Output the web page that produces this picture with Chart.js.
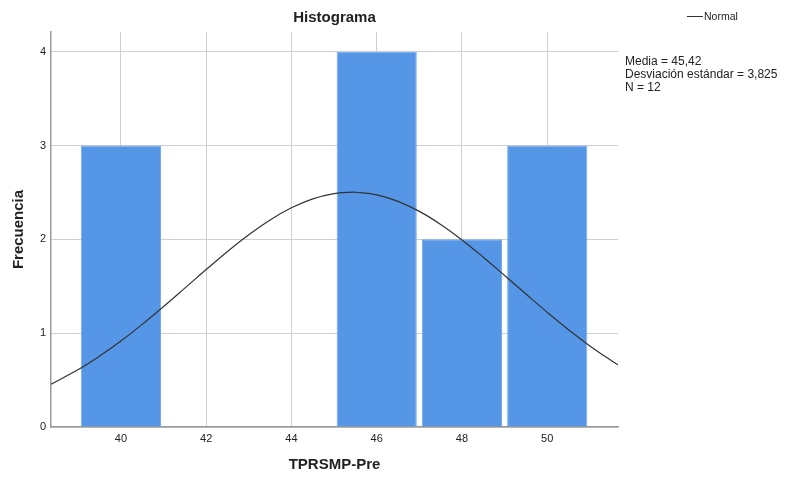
<!DOCTYPE html>
<html>
<head>
<meta charset="utf-8">
<script src="https://cdn.jsdelivr.net/npm/chart.js@4.4.1/dist/chart.umd.min.js"></script>
<style>
  html, body { margin: 0; padding: 0; background: #fff; }
  #wrap { position: relative; width: 789px; height: 477px; }
  canvas { position: absolute; left: 0; top: 0; }
  .txt { position: absolute; font-family: 'Liberation Sans', Arial, sans-serif; color: #222; white-space: nowrap; }
  #legend { left: 687px; top: 10px; font-size: 10.5px; line-height: 13px; }
  #legend .swatch { display: inline-block; width: 16px; height: 0; border-top: 1.3px solid #333; vertical-align: middle; margin-right: 1px; position: relative; top: -1px; }
  #stats { left: 625px; top: 55px; font-size: 12px; line-height: 13px; }
</style>
</head>
<body>
<div id="wrap">
  <canvas id="c" width="789" height="477"></canvas>
  <div id="legend" class="txt"><span class="swatch"></span>Normal</div>
  <div id="stats" class="txt">Media = 45,42<br>Desviación estándar = 3,825<br>N = 12</div>
</div>
<script>
// Histogram bins (bin centres) and frequencies
const binCenters = [40, 46, 48, 50];
const frequencies = [3, 4, 2, 3];

// Normal curve, values
const curveX = [38.36, 39, 39.5, 40, 40.5, 41, 41.5, 42, 42.5, 43, 43.5, 44, 44.5, 45, 45.42, 45.5, 46, 46.5, 47, 47.5, 48, 48.5, 49, 49.5, 50, 50.5, 51, 51.5, 51.66];
const curveY = [0.456, 0.612, 0.756, 0.917, 1.094, 1.284, 1.480, 1.678, 1.871, 2.049, 2.207, 2.336, 2.432, 2.488, 2.503, 2.502, 2.474, 2.405, 2.298, 2.159, 1.994, 1.810, 1.615, 1.417, 1.222, 1.036, 0.864, 0.708, 0.662];

// Axis ticks and ranges
const xTicks = [40, 42, 44, 46, 48, 50];
const yTicks = [0, 1, 2, 3, 4];
const xMin = 38.36, xMax = 51.66;
const yMin = 0, yMax = 4.21;

const FONT = "'Liberation Sans', Arial, sans-serif";

new Chart(document.getElementById('c'), {
  type: 'bar',
  data: {
    datasets: [
      {
        type: 'line',
        label: 'Normal',
        data: curveX.map((x, i) => ({ x: x, y: curveY[i] })),
        borderColor: '#333333',
        borderWidth: 1.2,
        pointRadius: 0,
        tension: 0.4,
        fill: false,
        order: 0
      },
      {
        type: 'bar',
        label: 'Frecuencia',
        data: binCenters.map((x, i) => ({ x: x, y: frequencies[i] })),
        backgroundColor: '#5596e6',
        borderColor: '#74a9ec',
        borderWidth: 1,
        categoryPercentage: 1,
        barPercentage: 0.94,
        order: 1
      }
    ]
  },
  options: {
    responsive: false,
    animation: false,
    devicePixelRatio: 1,
    layout: { padding: { left: 0, right: 171, top: 0, bottom: 0 } },
    plugins: {
      legend: { display: false },
      tooltip: { enabled: false },
      title: {
        display: true,
        text: 'Histograma',
        fullSize: false,
        color: '#222',
        font: { family: FONT, size: 15, weight: 'bold', lineHeight: 1.2 },
        padding: { top: 9, bottom: 5 }
      }
    },
    scales: {
      x: {
        type: 'linear',
        min: xMin,
        max: xMax,
        offset: false,
        afterBuildTicks: s => { s.ticks = xTicks.map(v => ({ value: v })); },
        afterFit: s => { s.height = 50; },
        grid: { color: '#cfcfcf', lineWidth: 1, drawTicks: false, offset: false },
        border: { color: '#9a9a9a', width: 1.5 },
        ticks: { color: '#222', padding: 5, font: { family: FONT, size: 11 }, maxRotation: 0 },
        title: {
          display: true,
          text: 'TPRSMP-Pre',
          color: '#222',
          font: { family: FONT, size: 15, weight: 'bold', lineHeight: 1.2 },
          padding: { top: 0, bottom: 3 }
        }
      },
      y: {
        type: 'linear',
        min: yMin,
        max: yMax,
        afterBuildTicks: s => { s.ticks = yTicks.map(v => ({ value: v })); },
        afterFit: s => { s.width = 51; },
        grid: { color: '#cfcfcf', lineWidth: 1, drawTicks: false },
        border: { color: '#9a9a9a', width: 1.5 },
        ticks: { color: '#222', padding: 5, font: { family: FONT, size: 11 } },
        title: {
          display: true,
          text: 'Frecuencia',
          color: '#222',
          font: { family: FONT, size: 15, weight: 'bold', lineHeight: 1.2 },
          padding: { top: 10, bottom: 0 }
        }
      }
    }
  }
});
</script>
</body>
</html>
